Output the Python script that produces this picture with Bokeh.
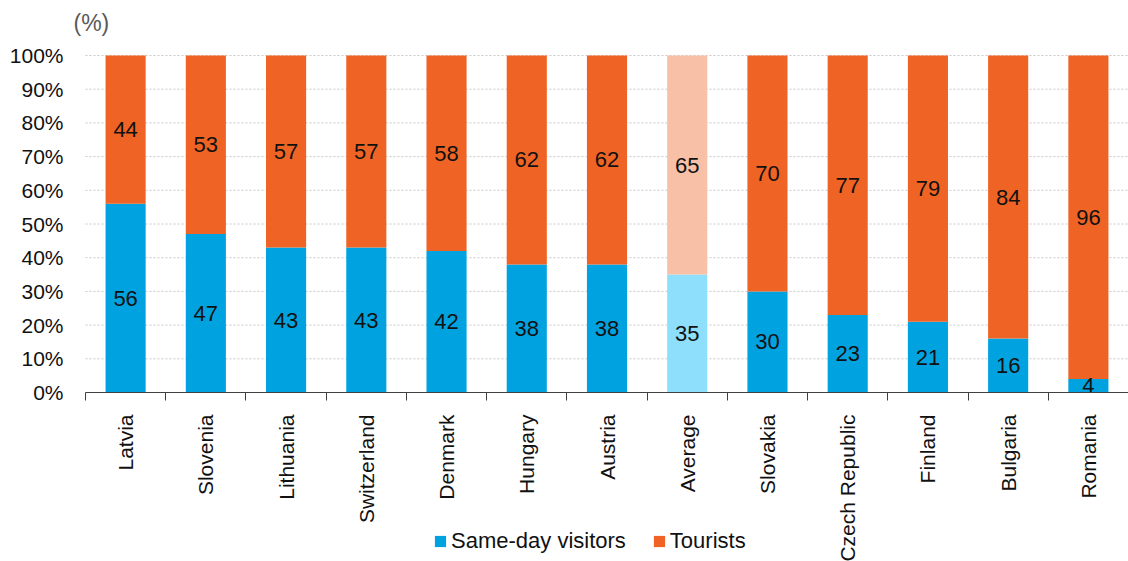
from bokeh.plotting import figure
from bokeh.models import (ColumnDataSource, FixedTicker, PrintfTickFormatter,
                          Legend, LegendItem, Label, LinearAxis)
from bokeh.core.properties import value
from bokeh.embed import file_html
from bokeh.resources import INLINE

countries = ["Latvia", "Slovenia", "Lithuania", "Switzerland", "Denmark", "Hungary",
             "Austria", "Average", "Slovakia", "Czech Republic", "Finland", "Bulgaria",
             "Romania"]
same_day = [56, 47, 43, 43, 42, 38, 38, 35, 30, 23, 21, 16, 4]
tourists = [44, 53, 57, 57, 58, 62, 62, 65, 70, 77, 79, 84, 96]
y_ticks = [0, 10, 20, 30, 40, 50, 60, 70, 80, 90, 100]

BLUE, ORANGE = "#00A3E0", "#EF6424"
BLUE_L, ORANGE_L = "#8EDFFB", "#F8C1A7"
FONT = "Liberation Sans"
TXT = "#111111"

n = len(countries)
xs = [i + 0.5 for i in range(n)]
blue_cols = [BLUE_L if c == "Average" else BLUE for c in countries]
orange_cols = [ORANGE_L if c == "Average" else ORANGE for c in countries]

src = ColumnDataSource(dict(
    x=xs, sd=same_day, tr=tourists,
    sd_top=same_day,
    tr_top=[a + b for a, b in zip(same_day, tourists)],
    sd_mid=[a / 2 for a in same_day],
    tr_mid=[a + b / 2 for a, b in zip(same_day, tourists)],
    sd_lab=[str(v) for v in same_day],
    tr_lab=[str(v) for v in tourists],
    bc=blue_cols, oc=orange_cols,
))

# The frame fills the whole canvas; axes are pinned at x=0 and y=0.
W, H = 1128, 561
left_px, top_px, bottom_px = 85, 55, 392
x_per = (W - left_px) / n
y_per = (bottom_px - top_px) / 100
x_range = (-left_px / x_per, n)
y_range = (-(H - bottom_px) / y_per, 100 + top_px / y_per)

p = figure(width=W, height=H, x_range=x_range, y_range=y_range,
           x_axis_location=None, y_axis_location=None,
           output_backend="svg", toolbar_location=None,
           min_border_left=0, min_border_right=0, min_border_top=0,
           min_border_bottom=0)
p.outline_line_color = None
p.background_fill_color = "white"
p.xgrid.visible = False
p.ygrid.visible = False

# horizontal gridlines spanning only the category area
grid_y = y_ticks[1:]
p.segment(x0=[0] * len(grid_y), x1=[n] * len(grid_y), y0=grid_y, y1=grid_y,
          line_color="#c8c8c8", line_dash="2 2", line_width=1, level="underlay")

r_sd = p.vbar(x="x", width=0.5, bottom=0, top="sd_top", fill_color="bc",
              line_color=None, source=src)
r_tr = p.vbar(x="x", width=0.5, bottom="sd_top", top="tr_top", fill_color="oc",
              line_color=None, source=src)

p.text(x="x", y="sd_mid", text="sd_lab", source=src, text_align="center",
       text_baseline="middle", text_font=value(FONT), text_font_size="22px",
       text_color=TXT)
p.text(x="x", y="tr_mid", text="tr_lab", source=src, text_align="center",
       text_baseline="middle", text_font=value(FONT), text_font_size="22px",
       text_color=TXT)

xaxis = LinearAxis(fixed_location=0, bounds=(0, n))
xaxis.ticker = FixedTicker(ticks=xs, minor_ticks=list(range(n + 1)))
xaxis.major_label_overrides = {x: c for x, c in zip(xs, countries)}
xaxis.major_label_orientation = 1.5707963
xaxis.major_tick_line_color = None
xaxis.major_tick_out = 0
xaxis.major_tick_in = 0
xaxis.minor_tick_line_color = "#404040"
xaxis.minor_tick_out = 8
xaxis.minor_tick_in = 0
xaxis.axis_line_color = "#404040"
xaxis.major_label_standoff = 14
xaxis.major_label_text_font = FONT
xaxis.major_label_text_font_size = "21px"
xaxis.major_label_text_color = TXT
p.add_layout(xaxis, "below")

yaxis = LinearAxis(fixed_location=0, bounds=(0, 100))
yaxis.ticker = FixedTicker(ticks=y_ticks)
yaxis.formatter = PrintfTickFormatter(format="%d%%")
yaxis.axis_line_color = None
yaxis.major_tick_line_color = None
yaxis.minor_tick_line_color = None
yaxis.major_tick_out = 0
yaxis.major_label_standoff = 22
yaxis.major_label_text_font = FONT
yaxis.major_label_text_font_size = "21px"
yaxis.major_label_text_color = TXT
p.add_layout(yaxis, "left")

unit = Label(x=0, y=100, x_offset=-12, y_offset=33, text="(%)",
             text_align="left", text_baseline="middle",
             text_font=FONT, text_font_size="23px", text_color="#595959")
p.add_layout(unit)

legend = Legend(items=[LegendItem(label="Same-day visitors", renderers=[r_sd], index=0),
                       LegendItem(label="Tourists", renderers=[r_tr], index=0)],
                orientation="horizontal", location=(433, 7),
                glyph_width=14, glyph_height=14, label_standoff=4, spacing=26,
                padding=0, margin=0, border_line_color=None,
                background_fill_alpha=0,
                label_text_font=FONT, label_text_font_size="22px",
                label_text_color=TXT)
p.add_layout(legend, "center")

open("out.html", "w").write(file_html(p, INLINE))
